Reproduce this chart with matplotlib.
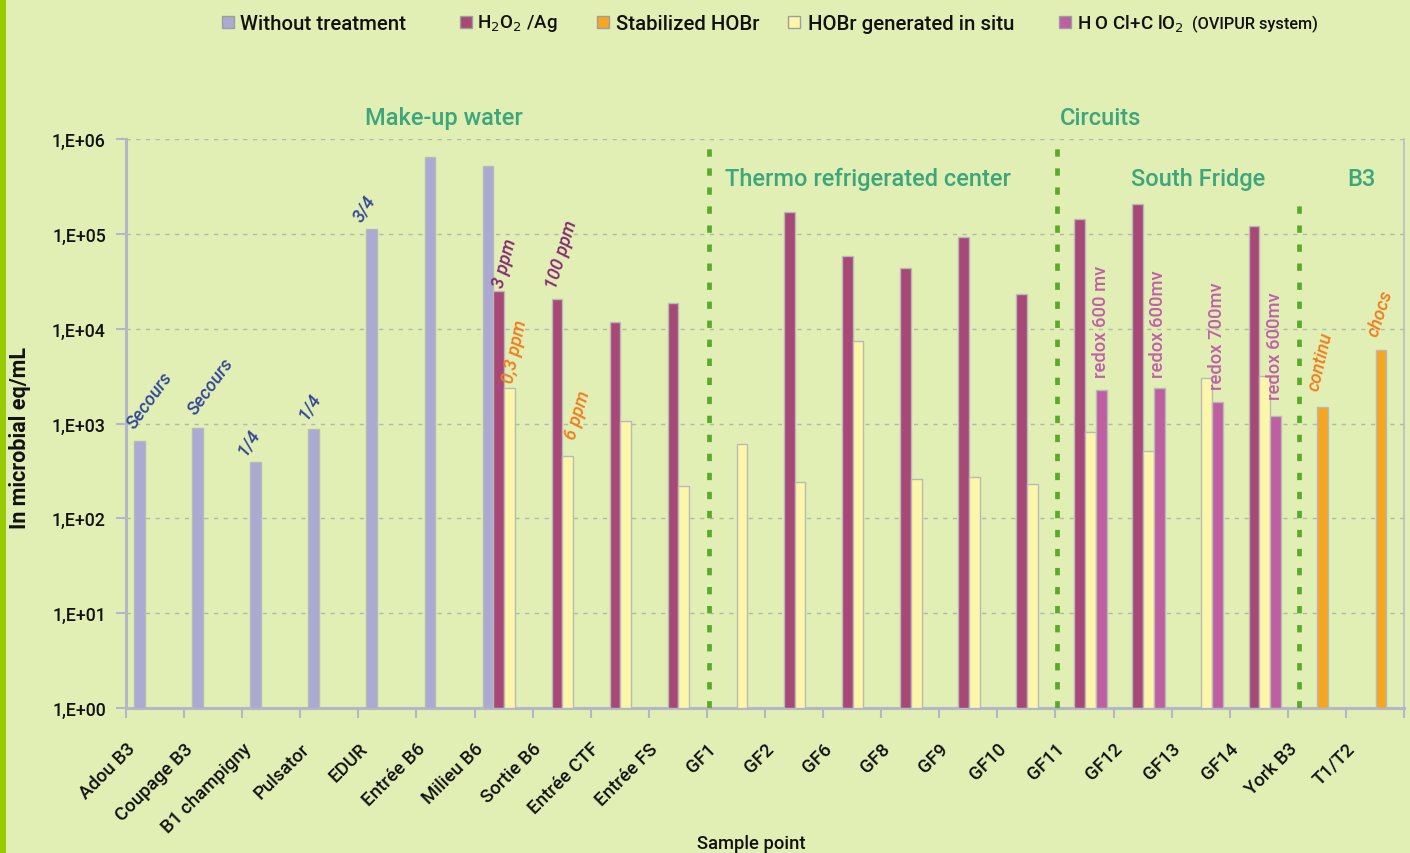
import numpy as np
import matplotlib
matplotlib.use("Agg")
import matplotlib.pyplot as plt
from matplotlib.patches import Rectangle
from matplotlib.ticker import FixedLocator, FuncFormatter, NullLocator
import matplotlib.transforms as mtransforms

nan = np.nan

# ---- data -------------------------------------------------------------
categories = ["Adou B3", "Coupage B3", "B1 champigny", "Pulsator", "EDUR",
              "Entrée B6", "Milieu B6", "Sortie B6", "Entrée CTF", "Entrée FS",
              "GF1", "GF2", "GF6", "GF8", "GF9", "GF10", "GF11", "GF12",
              "GF13", "GF14", "York B3", "T1/T2"]

without_treatment = [650, 905, 390, 867, 111700, 645000, 514000] + [nan] * 15
h2o2_ag = [nan] * 6 + [24700, 20800, 11800, 18700, nan, 170000, 58600, 44000,
                       93300, 23400, 145000, 204000, nan, 122000, nan, nan]
stabilized_hobr = [nan] * 20 + [1510, 5970]
hobr_in_situ = [nan] * 6 + [2390, 458, 1066, 217, 605, 242, 7480, 257, 274,
                            231, 806, 514, 2990, 3190, nan, nan]
hocl_clo2 = [nan] * 16 + [2270, 2390, 1700, 1210, nan, nan]

series_labels = ["Without treatment", r"H$_2$O$_2$ /Ag", "Stabilized HOBr",
                 "HOBr generated in situ", r"H O Cl+C lO$_2$"]

# ---- style ------------------------------------------------------------
BG = "#e1efb5"
AXIS_COL = "#b5b7c8"
GREEN_DASH = "#5aab2a"
HEAD_COL = "#3da67b"
FONT = ["Roboto", "DejaVu Sans"]

plt.rcParams["font.family"] = FONT

colors = ["#aaaad2", "#a84876", "#f5a623", "#fbf6aa", "#bd5fa0"]
offsets = [0.2325, 0.4175, 0.6025, 0.6025, 0.7875]   # bar centre within a category
bar_w = 0.185

fig = plt.figure(figsize=(14.10, 8.54), dpi=100, facecolor=BG)
W, H = 1410, 854
ax = fig.add_axes([126 / W, 145 / H, 1278 / W, 569 / H], facecolor=BG)

x = np.arange(len(categories))
all_series = [without_treatment, h2o2_ag, stabilized_hobr, hobr_in_situ, hocl_clo2]
for vals, col, off in zip(all_series, colors, offsets):
    v = np.asarray(vals, dtype=float)
    m = ~np.isnan(v)
    ax.bar(x[m] + off, v[m] - 1, bottom=1, width=bar_w, color=col,
           edgecolor="#b9b9b9", linewidth=1.0, zorder=3)

ax.set_yscale("log")
ax.set_ylim(1, 1e6)
ax.set_xlim(0, len(categories))

# y axis
ax.yaxis.set_major_locator(FixedLocator([10.0 ** k for k in range(7)]))
ax.yaxis.set_minor_locator(NullLocator())
ax.yaxis.set_major_formatter(FuncFormatter(lambda v, p: "1,E+%02d" % int(round(np.log10(v)))))
ax.tick_params(axis="y", length=7, width=1.5, color=AXIS_COL, pad=7.5,
               labelsize=12.8, labelcolor="#111111")
for lab in ax.get_yticklabels():
    lab.set_fontweight("medium")
ax.yaxis.grid(True, linestyle=(0, (3, 4)), color="#b3b9a9", linewidth=1.0, zorder=0)

# x axis: tick marks on category boundaries, labels rotated
ax.set_xticks(np.arange(len(categories) + 1))
ax.set_xticklabels(categories + [""])
ax.tick_params(axis="x", length=7, width=1.5, color=AXIS_COL, pad=15.5,
               labelsize=13.4, labelcolor="#111111")
for lab in ax.get_xticklabels():
    lab.set_rotation(45)
    lab.set_ha("right")
    lab.set_va("top")
    lab.set_rotation_mode("anchor")
    lab.set_fontweight("medium")

for side in ("left", "bottom"):
    ax.spines[side].set_color(AXIS_COL)
    ax.spines[side].set_linewidth(2.2)
ax.spines["right"].set_color("#b9bdca")
ax.spines["right"].set_linewidth(1.2)
ax.spines["top"].set_visible(False)

# section separators
lw = 3.4
dash = (0, (5.3 / lw, 8.4 / lw))
ax.axvline(10.03, ymin=0, ymax=1, color=GREEN_DASH, lw=lw, linestyle=dash, zorder=4)
ax.axvline(16.03, ymin=0, ymax=1, color=GREEN_DASH, lw=lw, linestyle=dash, zorder=4)
ax.axvline(20.2, ymin=0, ymax=0.90, color=GREEN_DASH, lw=lw, linestyle=dash, zorder=4)

# section headings
tr = mtransforms.blended_transform_factory(ax.transData, ax.transAxes)
head_kw = dict(transform=tr, color=HEAD_COL, fontsize=17, fontweight="medium", va="center")
ax.text(5.47, 1.037, "Make-up water", ha="center", **head_kw)
ax.text(16.77, 1.037, "Circuits", ha="center", **head_kw)
ax.text(10.31, 0.930, "Thermo refrigerated center", ha="left", **head_kw)
ax.text(17.30, 0.930, "South Fridge", ha="left", **head_kw)
ax.text(21.26, 0.930, "B3", ha="center", **head_kw)

# bar notes
BLUE, PURPLE, ORANGE, PINK = "#34479b", "#862b72", "#f07d1e", "#c060a8"
notes = [
    ("Secours", 0.15, 875, 54, BLUE, "italic"),
    ("Secours", 1.20, 1230, 54, BLUE, "italic"),
    ("1/4", 2.06, 466, 58, BLUE, "italic"),
    ("1/4", 3.11, 1116, 58, BLUE, "italic"),
    ("3/4", 4.06, 133000, 58, BLUE, "italic"),
    ("3 ppm", 6.50, 26800, 75, PURPLE, "italic"),
    ("0,3 ppm", 6.67, 2670, 78, ORANGE, "italic"),
    ("100 ppm", 7.40, 26200, 73, PURPLE, "italic"),
    ("6 ppm", 7.73, 670, 73, ORANGE, "italic"),
    ("redox 600 mv", 16.87, 3100, 90, PINK, "normal"),
    ("redox 600mv", 17.85, 3100, 90, PINK, "normal"),
    ("redox 700mv", 18.87, 2310, 90, PINK, "normal"),
    ("redox 600mv", 19.87, 1810, 90, PINK, "normal"),
    ("continu", 20.52, 2200, 77, ORANGE, "italic"),
    ("chocs", 21.55, 8170, 72, ORANGE, "italic"),
]
for txt, nx, ny, rot, col, sty in notes:
    ax.text(nx, ny, txt, rotation=rot, rotation_mode="anchor", ha="left",
            va="baseline", color=col, fontsize=13.2, fontstyle=sty,
            fontweight="medium", zorder=5)

# axis titles
fig.text(20 / W, 1 - 438 / H, "In microbial eq/mL", rotation=90, ha="center",
         va="center", fontsize=15.5, fontweight="bold", color="#111111")
fig.text(751 / W, 1 - 844 / H, "Sample point", ha="center", va="center",
         fontsize=13.2, fontweight="medium", color="#111111")

# legend row
leg_sq = [222, 460, 597, 788, 1059]
leg_tx = [240, 477, 616, 808, 1077]
leg_fs = [14.7, 13.5, 14.7, 14.7, 13.5]
for sx, tx, col, lab, fs in zip(leg_sq, leg_tx, colors, series_labels, leg_fs):
    fig.add_artist(Rectangle((sx / W, 1 - 29 / H), 12 / W, 12 / H,
                             transform=fig.transFigure, facecolor=col,
                             edgecolor="#9e9e9e", linewidth=1.0))
    fig.text(tx / W, 1 - 24 / H, lab, ha="left", va="center", fontsize=fs,
             fontweight="medium", color="#111111")
fig.text(1192 / W, 1 - 24 / H, "(OVIPUR system)", ha="left", va="center",
         fontsize=11.7, fontweight="medium", color="#111111")

# left accent stripe
fig.add_artist(Rectangle((0, 0), 6 / W, 1, transform=fig.transFigure,
                         facecolor="#99cc00", edgecolor="none"))

fig.savefig("out.png", dpi=100, facecolor=BG)
